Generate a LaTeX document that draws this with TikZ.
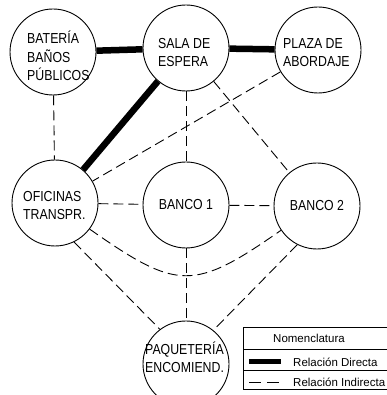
\documentclass[tikz,border=0pt]{standalone}
\usepackage{fontspec}
\setmainfont{Liberation Sans}
\newfontfamily\narrowf{Liberation Sans}[FakeStretch=0.85]
\begin{document}
\begin{tikzpicture}[x=1pt,y=1pt,
  circ/.style={draw, circle, line width=0.9pt, minimum size=86pt, inner sep=0pt, fill=white,
    font=\narrowf\fontsize{14.5}{18.5}\selectfont},
  lbl/.style={inner sep=0pt, align=left, anchor=base west,
    font=\narrowf\fontsize{14.5}{18.5}\selectfont},
  direct/.style={line width=6.5pt},
  indirect/.style={line width=0.9pt, dash pattern=on 10pt off 5pt},
  legtxt/.style={inner sep=0pt, font=\fontsize{11.5}{14}\selectfont}]
\useasboundingbox (0,0) rectangle (386,395);
% circles
\node[circ] (bat) at (53,343) {};
\node[circ] (sala) at (186,347) {};
\node[circ] (plaza) at (318,345) {};
\node[circ] (ofi) at (55,192) {};
\node[circ] (b1) at (186,190) {BANCO 1};
\node[circ] (b2) at (317,189) {BANCO 2};
\node[circ] (paq) at (186,31) {};
% connectors
\draw[direct] (bat) -- (sala);
\draw[direct] (sala) -- (plaza);
\draw[direct] (sala) -- (ofi);
\draw[indirect] (bat) -- (ofi);
\draw[indirect] (sala) -- (b1);
\draw[indirect] (sala) -- (b2);
\draw[indirect] (plaza) -- (ofi);
\draw[indirect] (ofi) -- (b1);
\draw[indirect] (b1) -- (b2);
\draw[indirect] (b1) -- (paq);
\draw[indirect] (ofi.-64) -- (paq.127);
\draw[indirect] (b2.-117) -- (paq.51);
\draw[indirect] (ofi.-37) .. controls +(-35:107) and +(-145:107) .. (b2.-146);
% texts (anchored at the baseline of the last line)
\node[lbl] (batT) at (27,314) {BATERÍA\\BAÑOS\\PÚBLICOS};
\node[lbl] (salaT) at (158,328) {SALA DE\\ESPERA};
\node[lbl] (plazaT) at (283,328) {PLAZA DE\\ABORDAJE};
\node[lbl] (ofiT) at (23,175) {OFICINAS\\TRANSPR.};
\node[lbl] (paqT) at (145,22) {PAQUETERÍA\\ENCOMIEND.};
% legend
\draw[line width=0.8pt] (243,6) rectangle (392,68);
\draw[line width=0.8pt] (243,46) -- (392,46);
\draw[line width=0.8pt] (243,25) -- (392,25);
\node[legtxt] (legH) at (309,57) {Nomenclatura};
\coordinate (d1) at (249,33);
\coordinate (d2) at (281,33);
\coordinate (i1) at (249,13);
\coordinate (i2) at (281,13);
\draw[line width=5pt] (d1) -- (d2);
\draw[line width=0.9pt, dash pattern=on 12pt off 6pt] (i1) -- (i2);
\node[legtxt, anchor=west] (legD) at (293,33) {Relación Directa};
\node[legtxt, anchor=west] (legI) at (293,13) {Relación Indirecta};
\end{tikzpicture}
\end{document}
